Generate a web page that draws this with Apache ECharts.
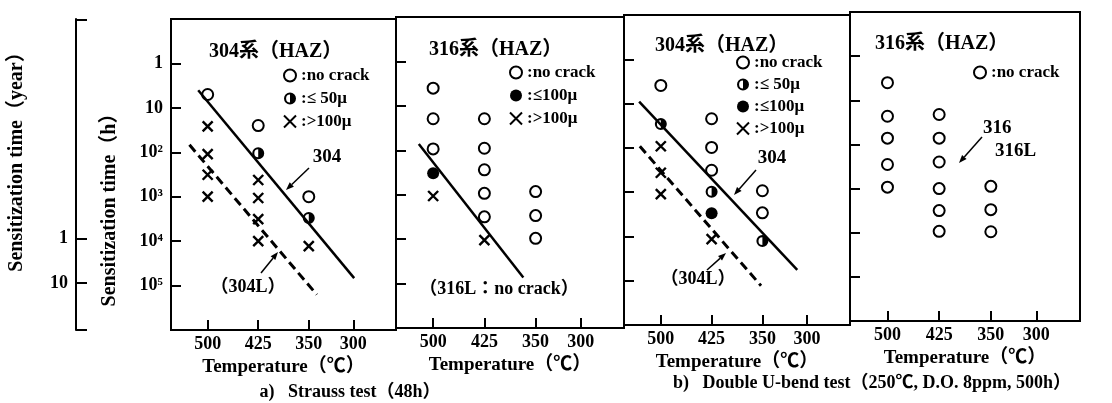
<!DOCTYPE html>
<html><head><meta charset="utf-8">
<script src="https://cdn.jsdelivr.net/npm/echarts@6/dist/echarts.min.js"></script>
<style>html,body{margin:0;padding:0;background:#fff}#c{width:1112px;height:403px}</style>
</head><body><div id="c"></div>
<script>
// ---- axis definitions ----
const tempTicks = [500, 425, 350, 300];          // Temperature (°C) tick labels
const tempTickPos = [0, 1, 2, 2.88];             // printed (non-linear) tick spacing of the original scale
const hourTicks = [1, 10, 100, 1000, 10000, 100000];
const hourLabels = ['1', '10', '10²', '10³', '10⁴', '10⁵'];
const yearTicks = [1, 10];
const yearLabels = ['1', '10'];

// ---- a) Strauss test, 304 series (HAZ) : [temperature °C, hours] ----
const a304_noCrack = [[500, 5], [425, 25], [350, 1000]];
const a304_le50 = [[425, 105], [350, 3000]];
const a304_gt100 = [[500, 26], [500, 110], [500, 320], [500, 1000], [425, 420], [425, 1070], [425, 3200], [425, 10000], [350, 13000]];
const a304_line304 = [[514, 4], [299, 68000]];
const a304_line304L = [[527, 68], [341, 160000]];

// ---- a) Strauss test, 316 series (HAZ) ----
const a316_noCrack = [[500, 4], [500, 19.5], [500, 93], [425, 19.5], [425, 90], [425, 275], [425, 930], [425, 3150], [350, 850], [350, 2950], [350, 9600]];
const a316_le100 = [[500, 330]];
const a316_gt100 = [[500, 1070], [425, 10500]];
const a316_line316 = [[521, 72], [368, 73000]];

// ---- b) Double U-bend test, 304 series (HAZ) ----
const b304_noCrack = [[500, 3.9], [425, 22], [425, 98], [425, 320], [350, 930], [350, 2930]];
const b304_le50 = [[500, 29], [425, 980], [350, 12700]];
const b304_le100 = [[425, 3000]];
const b304_gt100 = [[500, 92], [500, 365], [500, 1110], [425, 11500]];
const b304_line304 = [[532, 9], [311, 57000]];
const b304_line304L = [[531, 92], [352, 130000]];

// ---- b) Double U-bend test, 316 series (HAZ) ----
const b316_noCrack = [[500, 4], [500, 23], [500, 72], [500, 285], [500, 930], [425, 21], [425, 72], [425, 250], [425, 1000], [425, 3150], [425, 9300], [350, 890], [350, 3000], [350, 9500]];

// ---- scale helper: temperature -> axis position (piecewise along printed ticks) ----
function tpos(T) {
  let i = 0;
  if (T <= tempTicks[tempTicks.length - 2]) i = tempTicks.length - 2;
  else { for (i = 0; i < tempTicks.length - 2; i++) if (T >= tempTicks[i + 1]) break; }
  const t0 = tempTicks[i], t1 = tempTicks[i + 1], p0 = tempTickPos[i], p1 = tempTickPos[i + 1];
  return p0 + (T - t0) * (p1 - p0) / (t1 - t0);
}
const P = arr => arr.map(([t, h]) => [tpos(t), h]);
const posTicks = tempTicks.map(tpos);

const FF = "'Liberation Serif','Noto Sans CJK JP',serif";
const HALF = 'path://M10,0A10,10 0 1,1 10,20A10,10 0 1,1 10,0Z M10,3.5A6.5,6.5 0 1,0 10,16.5A6.5,6.5 0 1,0 10,3.5Z M10,3.5A6.5,6.5 0 0,1 10,16.5Z';
const CROSS = 'path://M0,0L10,10M10,0L0,10';
const STY = {
  'no crack': { symbol: 'circle', symbolSize: 11, itemStyle: { color: '#fff', borderColor: '#000', borderWidth: 2, opacity: 1 } },
  '≤ 50μ': { symbol: HALF, symbolSize: 12, itemStyle: { color: '#000', borderWidth: 0, opacity: 1 } },
  '≤100μ': { symbol: 'circle', symbolSize: 12, itemStyle: { color: '#000', borderWidth: 0, opacity: 1 } },
  '>100μ': { symbol: CROSS, symbolSize: 10, itemStyle: { color: 'transparent', borderColor: '#000', borderWidth: 2.4, opacity: 1 } }
};

const grids = [
  { left: 171, top: 19, width: 225, height: 311 },
  { left: 396, top: 17, width: 228, height: 311 },
  { left: 624, top: 15, width: 226, height: 310 },
  { left: 850, top: 12, width: 230, height: 309 }
].map(g => Object.assign({ show: true, borderColor: '#000', borderWidth: 2, backgroundColor: 'transparent' }, g));

const lblStyle = { color: '#000', fontFamily: FF, fontWeight: 'bold', fontSize: 18 };
const xAxes = grids.map((g, i) => ({
  type: 'value', gridIndex: i, min: -0.725, max: 3.725,
  axisLine: { show: true, onZero: false, lineStyle: { color: '#000', width: 2 } },
  axisTick: { show: true, inside: true, length: 10, customValues: posTicks, lineStyle: { color: '#000', width: 2 } },
  axisLabel: Object.assign({ customValues: posTicks, margin: 5,
    formatter: v => { const k = posTicks.findIndex(p => Math.abs(p - v) < 1e-6); return k < 0 ? '' : String(tempTicks[k]); } }, lblStyle),
  splitLine: { show: false },
  name: 'Temperature（℃）', nameLocation: 'middle', nameGap: 24,
  nameTextStyle: { color: '#000', fontFamily: FF, fontWeight: 'bold', fontSize: 19 }
}));
const hourFmt = v => { const k = hourTicks.findIndex(t => Math.abs(Math.log10(t) - Math.log10(v)) < 1e-6); return k < 0 ? '' : hourLabels[k]; };
const yAxes = grids.map((g, i) => ({
  type: 'log', logBase: 10, gridIndex: i, inverse: true, min: 0.1, max: 1e6,
  axisLine: { show: true, onZero: false, lineStyle: { color: '#000', width: 2 } },
  axisTick: { show: true, inside: true, length: 10, customValues: hourTicks, lineStyle: { color: '#000', width: 2 } },
  axisLabel: Object.assign({ show: i === 0, customValues: hourTicks, margin: 8, formatter: hourFmt }, lblStyle),
  splitLine: { show: false }
}));
const yMin = 0.1 / 8760, yMax = 1e6 / 8760;
const yearFmt = v => { const k = yearTicks.findIndex(t => Math.abs(Math.log10(t) - Math.log10(v)) < 1e-6); return k < 0 ? '' : yearLabels[k]; };
yAxes.push({
  type: 'log', logBase: 10, gridIndex: 0, inverse: true, min: yMin, max: yMax, position: 'left', offset: 95,
  axisLine: { show: true, onZero: false, lineStyle: { color: '#000', width: 2 } },
  axisTick: { show: true, inside: true, length: 11, customValues: [yMin * 1.02, 1, 10, yMax / 1.02], lineStyle: { color: '#000', width: 2 } },
  axisLabel: Object.assign({ customValues: yearTicks, margin: 8, formatter: yearFmt }, lblStyle),
  splitLine: { show: false }
});

const series = [];
function line(i, data, dashed) {
  series.push({ type: 'line', xAxisIndex: i, yAxisIndex: i, data: P(data), symbol: 'none', silent: true,
    lineStyle: { color: '#000', width: dashed ? 3 : 2.5, type: dashed ? [9, 5] : 'solid' } });
}
function scat(i, name, data) {
  if (name === '≤ 50μ') {
    series.push({ type: 'scatter', xAxisIndex: i, yAxisIndex: i, data: P(data), symbol: 'circle', symbolSize: 11, silent: true,
      itemStyle: { color: '#fff', opacity: 1 } });
  }
  series.push(Object.assign({ type: 'scatter', name, xAxisIndex: i, yAxisIndex: i, data: P(data), silent: true }, STY[name]));
}
line(0, a304_line304, false); line(0, a304_line304L, true);
scat(0, 'no crack', a304_noCrack); scat(0, '≤ 50μ', a304_le50); scat(0, '>100μ', a304_gt100);
line(1, a316_line316, false);
scat(1, 'no crack', a316_noCrack); scat(1, '≤100μ', a316_le100); scat(1, '>100μ', a316_gt100);
line(2, b304_line304, false); line(2, b304_line304L, true);
scat(2, 'no crack', b304_noCrack); scat(2, '≤ 50μ', b304_le50); scat(2, '≤100μ', b304_le100); scat(2, '>100μ', b304_gt100);
scat(3, 'no crack', b316_noCrack);

const legTxt = { color: '#000', fontFamily: FF, fontWeight: 'bold', fontSize: 17, lineHeight: 19 };
function leg(data, left, top, gap) {
  return { data, left, top, orient: 'vertical', itemWidth: 12, itemHeight: 12, itemGap: gap, selectedMode: false,
    formatter: n => ':' + n, textStyle: legTxt, padding: 0 };
}
const legends = [
  leg(['no crack', '≤ 50μ', '>100μ'], 283, 66, 4),
  leg(['no crack', '≤100μ', '>100μ'], 509, 63, 4),
  leg(['no crack', '≤ 50μ', '≤100μ', '>100μ'], 736, 53, 3),
  leg(['no crack'], 973, 63, 4)
];

function txt(x, y, s, size, align, rot) {
  return { type: 'text', x, y, rotation: rot || 0, silent: true,
    style: { text: s, x: 0, y: 0, font: `bold ${size}px ${FF}`, fill: '#000',
      align: align || 'center', textAlign: align || 'center', verticalAlign: 'middle', textVerticalAlign: 'middle' } };
}
function arrow(x1, y1, x2, y2) {
  const dx = x2 - x1, dy = y2 - y1, L = Math.hypot(dx, dy), ux = dx / L, uy = dy / L, hl = 8, hw = 3;
  const bx = x2 - ux * hl, by = y2 - uy * hl;
  return [
    { type: 'line', silent: true, shape: { x1, y1, x2: bx, y2: by }, style: { stroke: '#000', lineWidth: 1.5 } },
    { type: 'polygon', silent: true, shape: { points: [[x2, y2], [bx - uy * hw, by + ux * hw], [bx + uy * hw, by - ux * hw]] }, style: { fill: '#000' } }
  ];
}
const graphics = [
  txt(209, 52, '304系（HAZ）', 20, 'left'),
  txt(429, 50, '316系（HAZ）', 20, 'left'),
  txt(655, 46, '304系（HAZ）', 20, 'left'),
  txt(875, 44, '316系（HAZ）', 20, 'left'),
  txt(327, 157, '304', 19),
  txt(248, 287, '（304L）', 18),
  txt(499, 289, '（316L：no crack）', 18),
  txt(772, 158, '304', 19),
  txt(698, 279, '（304L）', 18),
  txt(983, 128, '316', 19, 'left'),
  txt(995, 151, '316L', 19, 'left'),
  txt(350, 392, 'a)   Strauss test（48h）', 18),
  txt(872, 383, 'b)   Double U-bend test（250℃, D.O. 8ppm, 500h）', 18),
  txt(110, 205, 'Sensitization time（h）', 20, 'center', Math.PI / 2),
  txt(17, 157, 'Sensitization time（year）', 20, 'center', Math.PI / 2),
  ...arrow(309, 168, 286, 190),
  ...arrow(261, 273, 278, 252),
  ...arrow(756, 170, 734, 195),
  ...arrow(707, 270, 726, 253),
  ...arrow(982, 137, 959, 163)
];

const chart = echarts.init(document.getElementById('c'), null, { renderer: 'canvas' });
chart.setOption({
  animation: false,
  backgroundColor: '#fff',
  grid: grids, xAxis: xAxes, yAxis: yAxes, series, legend: legends, graphic: graphics
});
</script></body></html>
